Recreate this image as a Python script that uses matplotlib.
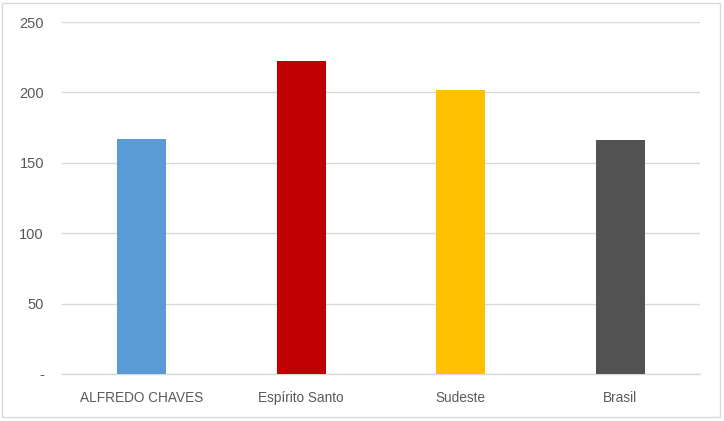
import matplotlib
matplotlib.use("Agg")
import matplotlib.pyplot as plt
from matplotlib.patches import Rectangle

categories = ["ALFREDO CHAVES", "Espírito Santo", "Sudeste", "Brasil"]
values = [167, 222, 202, 166]
colors = ["#5B9BD5", "#C00000", "#FFC000", "#525252"]
yticks = [0, 50, 100, 150, 200, 250]
ytick_labels = ["-", "50", "100", "150", "200", "250"]

plt.rcParams['font.family'] = ['Liberation Sans', 'DejaVu Sans']

fig = plt.figure(figsize=(7.24, 4.21), dpi=100)
ax = fig.add_axes([62/724, 1 - 374/421, (700-62)/724, (374-22)/421])

x = list(range(len(categories)))
ax.bar(x, values, width=0.31, color=colors, zorder=3)
ax.set_xlim(-0.5, len(categories) - 0.5)
ax.set_ylim(0, 250)
ax.set_yticks(yticks)
ax.set_yticklabels(ytick_labels)
ax.set_xticks(x)
ax.set_xticklabels(categories)
ax.tick_params(axis='both', length=0, colors="#595959")
ax.tick_params(axis='y', pad=13, labelsize=10.5)
ax.tick_params(axis='x', pad=12, labelsize=9.8)
ax.grid(axis='y', color="#d9d9d9", linewidth=1, zorder=0)
for s in ["top", "right", "left"]:
    ax.spines[s].set_visible(False)
ax.spines["bottom"].set_color("#d9d9d9")
ax.spines["bottom"].set_linewidth(1)

fig.patches.append(Rectangle((2/724, 4/421), 718/724, 414/421, transform=fig.transFigure,
                             fill=False, edgecolor="#d9d9d9", linewidth=1))

fig.savefig("out.png", dpi=100)
